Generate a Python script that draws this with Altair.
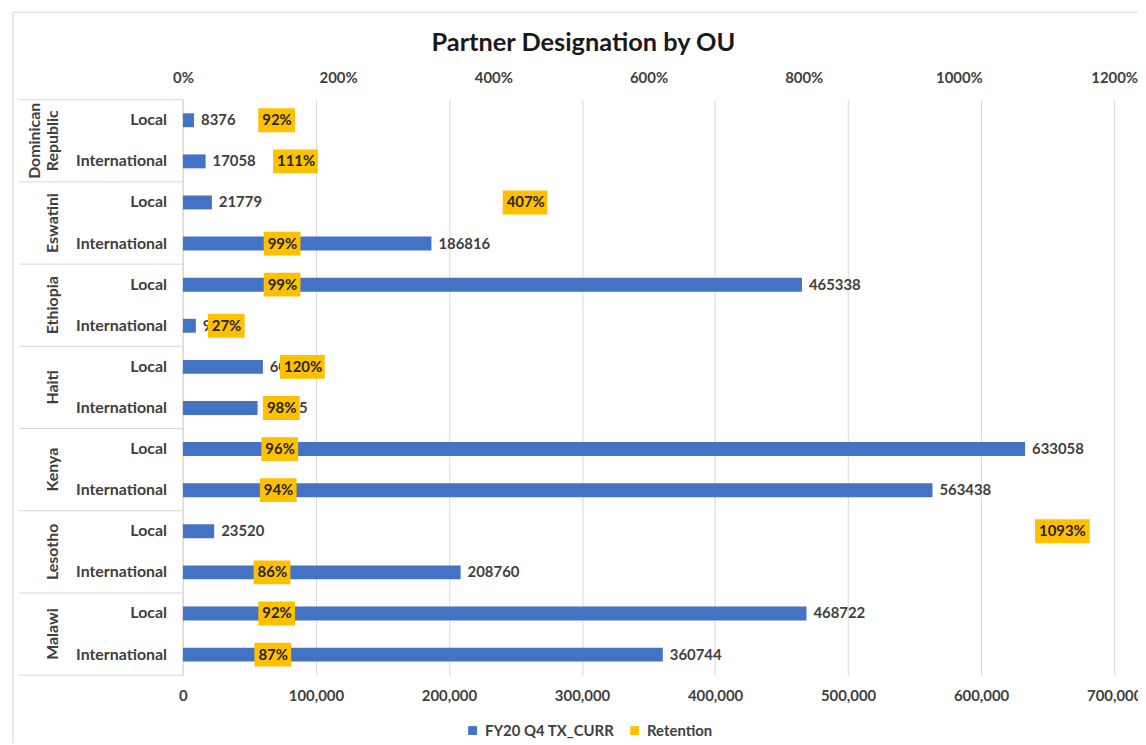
import altair as alt
import pandas as pd

# ---------------- data ----------------
ous = ["Dominican Republic", "Eswatini", "Ethiopia", "Haiti", "Kenya", "Lesotho", "Malawi"]
partner_types = ["Local", "International"]
tx_curr = [8376, 17058, 21779, 186816, 465338, 9712, 60120, 56105,
           633058, 563438, 23520, 208760, 468722, 360744]
retention = [0.92, 1.11, 4.07, 0.99, 0.99, 0.27, 1.20, 0.98,
             0.96, 0.94, 10.93, 0.86, 0.92, 0.87]
tx_ticks = [0, 100000, 200000, 300000, 400000, 500000, 600000, 700000]
pct_ticks = [0, 2, 4, 6, 8, 10, 12]
series_names = ["FY20 Q4 TX_CURR", "Retention"]
series_colors = ["#4472C4", "#FFC000"]
title_text = "Partner Designation by OU"

rows = []
keys = []
i = 0
for ou in ous:
    for t in partner_types:
        k = f"{ou}|{t}"
        keys.append(k)
        rows.append({"ou": ou, "type": t, "key": k, "tx": tx_curr[i],
                     "ret": retention[i], "s1": series_names[0], "s2": series_names[1]})
        i += 1
df = pd.DataFrame(rows)

# ---------------- styling ----------------
FONT = "Lato"
TXT = "#404040"
GRID = "#D9D9D9"
W, H = 937, 579

y_scale = alt.Scale(type="band", domain=keys, paddingInner=0, paddingOuter=0)
color_scale = alt.Scale(domain=series_names, range=series_colors)
legend = alt.Legend(title=None, orient="none", legendX=284, legendY=627, direction="horizontal",
                    symbolType="square", symbolSize=80, symbolStrokeWidth=0,
                    labelFont=FONT, labelFontSize=15, labelFontWeight="bold", labelColor=TXT,
                    columnPadding=12, labelOffset=5, padding=0)

# box shapes (pixel units when size = 4) for 3, 4, 5 character labels
box_paths = ["M4,-12H41V12H4Z", "M4,-12H49V12H4Z", "M4,-12H59V12H4Z"]

base = alt.Chart(df)

def y_enc(**kw):
    return alt.Y("key:N", scale=y_scale, sort=None, axis=None, **kw)

bars = base.mark_bar(size=14).encode(
    x=alt.X("tx:Q", scale=alt.Scale(domain=[0, 700000], nice=False),
            axis=alt.Axis(orient="bottom", values=tx_ticks,
                          labelExpr="format(datum.value, ',')",
                          title=None, grid=True, gridColor=GRID, domain=False, ticks=False,
                          labelFlush=False,
                          labelFont=FONT, labelFontSize=15, labelFontWeight="bold",
                          labelColor=TXT, labelPadding=14)),
    y=y_enc(),
    color=alt.Color("s1:N", scale=color_scale, legend=legend),
)

bar_labels = base.mark_text(align="left", baseline="middle", dx=7, font=FONT, fontSize=15,
                            fontWeight="bold", color=TXT).encode(
    x=alt.X("tx:Q"),
    y=y_enc(),
    text=alt.Text("tx:Q", format="d"),
)

type_labels = base.mark_text(align="right", baseline="middle", dx=-16, font=FONT, fontSize=16,
                             fontWeight="bold", color=TXT).encode(
    x=alt.value(0),
    y=y_enc(),
    text="type:N",
)

ou_text_style = dict(angle=270, align="center", baseline="bottom", lineBreak=" ", lineHeight=18,
                     font=FONT, fontSize=16, fontWeight="bold", color=TXT)
ou_single = base.transform_filter(
    "datum.type == 'International' && indexof(datum.ou, ' ') < 0").mark_text(**ou_text_style).encode(
    x=alt.value(-123),
    y=y_enc(bandPosition=0),
    text="ou:N",
)
ou_multi = base.transform_filter(
    "datum.type == 'International' && indexof(datum.ou, ' ') >= 0").mark_text(**ou_text_style).encode(
    x=alt.value(-141),
    y=y_enc(bandPosition=0),
    text="ou:N",
)

group_lines = base.transform_filter("datum.type == 'International'").mark_rule(
    color=GRID, strokeWidth=1).encode(
    x=alt.value(-165), x2=alt.value(0),
    y=y_enc(bandPosition=1),
)

one = alt.Data(values=[{"a": 1}])
top_line = alt.Chart(one).mark_rule(color=GRID).encode(
    x=alt.value(-165), x2=alt.value(0), y=alt.value(0))
axis_line = alt.Chart(one).mark_rule(color=GRID).encode(
    x=alt.value(0), y=alt.value(0), y2=alt.value(H))
border_left = alt.Chart(one).mark_rule(color=GRID).encode(
    x=alt.value(-171), y=alt.value(-88), y2=alt.value(H + 120))
border_top = alt.Chart(one).mark_rule(color=GRID).encode(
    x=alt.value(-171), x2=alt.value(W + 60), y=alt.value(-88))
title_mark = alt.Chart(alt.Data(values=[{"t": title_text}])).mark_text(
    align="center", baseline="alphabetic", font=FONT, fontSize=25.5, fontWeight="bold",
    color="#1a1a1a").encode(x=alt.value(403), y=alt.value(-49), text="t:N")

tx_group = alt.layer(border_left, border_top, top_line, axis_line, group_lines,
                     ou_single, ou_multi, type_labels, bars, bar_labels, title_mark)

ret_base = base.transform_calculate(nch="length(format(datum.ret, '.0%'))")
boxes = ret_base.mark_point(filled=True, size=4, opacity=1, strokeWidth=0).encode(
    x=alt.X("ret:Q", scale=alt.Scale(domain=[0, 12], nice=False),
            axis=alt.Axis(orient="top", values=pct_ticks, format=".0%", title=None,
                          grid=False, domain=False, ticks=False, labelFlush=False,
                          labelFont=FONT, labelFontSize=15, labelFontWeight="bold",
                          labelColor=TXT, labelPadding=14)),
    y=y_enc(),
    shape=alt.Shape("nch:O", scale=alt.Scale(domain=[3, 4, 5], range=box_paths), legend=None),
    color=alt.Color("s2:N", scale=color_scale, legend=legend),
)
box_text = ret_base.mark_text(align="left", baseline="middle", dx=8, font=FONT, fontSize=15,
                              fontWeight="bold", color="#262626").encode(
    x=alt.X("ret:Q"),
    y=y_enc(),
    text=alt.Text("ret:Q", format=".0%"),
)
ret_group = alt.layer(boxes, box_text)

chart = alt.layer(tx_group, ret_group).resolve_scale(x="independent").properties(
    width=W, height=H,
    autosize=alt.AutoSizeParams(type="none"),
    padding={"left": 176, "top": 90, "right": 24, "bottom": 66},
    background="white",
).configure_view(stroke=None)

chart.save("out.html", embed_options={"renderer": "svg", "actions": False})
